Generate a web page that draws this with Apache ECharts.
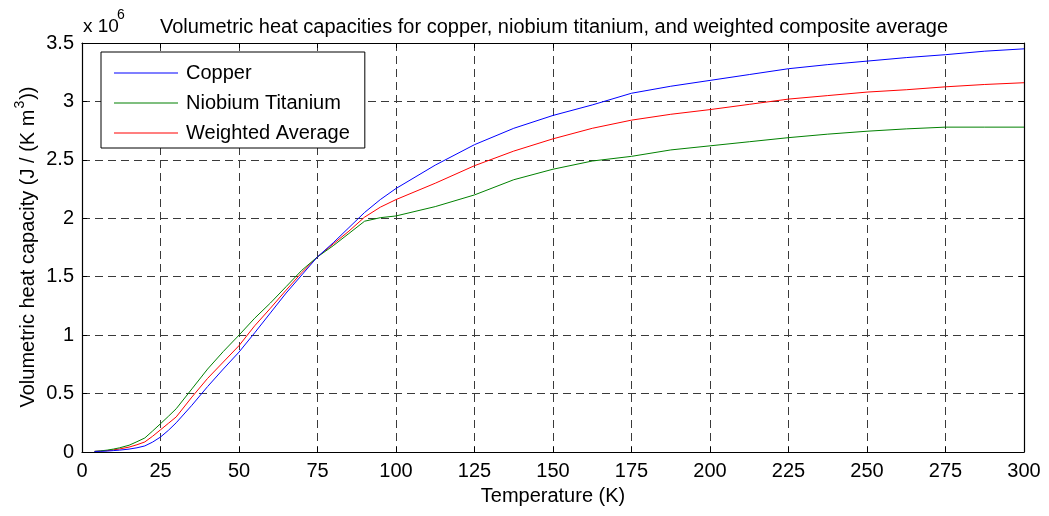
<!DOCTYPE html>
<html>
<head>
<meta charset="utf-8">
<script src="https://cdn.jsdelivr.net/npm/echarts@6/dist/echarts.min.js"></script>
<style>
html,body{margin:0;padding:0;background:#fff;}
#chart{width:1049px;height:516px;}
</style>
</head>
<body>
<div id="chart"></div>
<script>
// Temperature (K)
const temperatures = [4, 6, 8, 10, 12, 15, 17.5, 20, 22.5, 25, 27.5, 30, 35, 40, 45, 50, 55, 60, 65, 70, 75, 80, 85, 90, 95, 100, 112.5, 125, 137.5, 150, 162.5, 175, 187.5, 200, 212.5, 225, 237.5, 250, 262.5, 275, 287.5, 300];
// Volumetric heat capacity (x 10^6 J/(K m^3))
const copper = [0.005, 0.006, 0.008, 0.012, 0.016, 0.025, 0.036, 0.052, 0.085, 0.128, 0.185, 0.25, 0.40, 0.56, 0.71, 0.855, 1.02, 1.19, 1.36, 1.515, 1.67, 1.79, 1.92, 2.05, 2.16, 2.255, 2.455, 2.63, 2.77, 2.88, 2.97, 3.07, 3.13, 3.18, 3.23, 3.28, 3.315, 3.345, 3.375, 3.40, 3.43, 3.45];
const niobiumTitanium = [0.005, 0.010, 0.016, 0.025, 0.036, 0.058, 0.088, 0.12, 0.18, 0.242, 0.305, 0.37, 0.54, 0.71, 0.86, 1.0, 1.145, 1.275, 1.415, 1.555, 1.67, 1.765, 1.87, 1.975, 2.005, 2.02, 2.10, 2.20, 2.33, 2.42, 2.49, 2.53, 2.585, 2.62, 2.655, 2.69, 2.72, 2.745, 2.765, 2.78, 2.78, 2.78];
const weightedAverage = [0.005, 0.008, 0.012, 0.018, 0.026, 0.042, 0.062, 0.086, 0.135, 0.19, 0.245, 0.30, 0.47, 0.63, 0.77, 0.91, 1.08, 1.23, 1.385, 1.535, 1.67, 1.78, 1.89, 2.01, 2.095, 2.16, 2.30, 2.45, 2.575, 2.68, 2.77, 2.84, 2.89, 2.93, 2.975, 3.02, 3.05, 3.08, 3.10, 3.125, 3.145, 3.16];
const xTicks = [0, 25, 50, 75, 100, 125, 150, 175, 200, 225, 250, 275, 300];
const yTicks = [0, 0.5, 1, 1.5, 2, 2.5, 3, 3.5];
const seriesNames = ['Copper', 'Niobium Titanium', 'Weighted Average'];
const seriesColors = ['#0000ff', '#008000', '#ff0000'];

const FONT = 'Liberation Sans, Arial, sans-serif';
const chart = echarts.init(document.getElementById('chart'), null, {renderer: 'canvas'});

function pairs(ys) { return temperatures.map((t, i) => [t, ys[i]]); }

const gridLine = {show: true, lineStyle: {color: '#3a3a3a', type: [8, 5], width: 1}};
const tickStyle = {show: true, inside: true, length: 5, lineStyle: {color: '#000', width: 1}};
const boxLine = {show: true, onZero: false, lineStyle: {color: '#000', width: 1.2}};

const option = {
  animation: false,
  backgroundColor: '#fff',
  color: seriesColors,
  textStyle: {fontFamily: FONT},
  graphic: [
    {
      type: 'text', x: 554, y: 27,
      style: {
        text: 'Volumetric heat capacities for copper, niobium titanium, and weighted composite average',
        fontFamily: FONT, fontSize: 20, fill: '#000', align: 'center', verticalAlign: 'middle'
      }
    },
    {
      type: 'text', x: 83, y: 27,
      style: {text: 'x 10', fontFamily: FONT, fontSize: 19, fill: '#000', align: 'left', verticalAlign: 'middle'}
    },
    {
      type: 'text', x: 117, y: 15,
      style: {text: '6', fontFamily: FONT, fontSize: 14, fill: '#000', align: 'left', verticalAlign: 'middle'}
    },
    {
      type: 'text', x: 25, y: 247, rotation: Math.PI / 2,
      style: {
        text: '{a|Volumetric heat capacity (J / (K m}{s|3}{a|))}',
        align: 'center', verticalAlign: 'middle',
        rich: {
          a: {fontFamily: FONT, fontSize: 20, fill: '#000', padding: [7, 0, 0, 0]},
          s: {fontFamily: FONT, fontSize: 14, fill: '#000', padding: [0, 1, 9, 1]}
        }
      }
    }
  ],
  legend: {
    orient: 'vertical',
    left: 101, top: 52,
    padding: [11, 15, 5, 13],
    itemGap: 10,
    itemWidth: 64, itemHeight: 1,
    icon: 'rect',
    backgroundColor: '#fff',
    borderColor: '#000', borderWidth: 1,
    textStyle: {fontFamily: FONT, fontSize: 20, color: '#000', padding: [0, 0, 0, 3]},
    data: seriesNames
  },
  grid: {left: 82, right: 25, top: 43, bottom: 64, containLabel: false},
  xAxis: [{
    type: 'value', min: 0, max: 300, interval: 25,
    name: 'Temperature (K)', nameLocation: 'middle', nameGap: 34,
    nameTextStyle: {fontFamily: FONT, fontSize: 20, color: '#000'},
    axisLine: boxLine, axisTick: tickStyle,
    axisLabel: {fontFamily: FONT, fontSize: 20, color: '#000', margin: 9, customValues: xTicks},
    splitLine: gridLine
  }, {
    type: 'value', min: 0, max: 300, interval: 25, position: 'top',
    axisLine: boxLine, axisTick: tickStyle,
    axisLabel: {show: false}, splitLine: {show: false}
  }],
  yAxis: [{
    type: 'value', min: 0, max: 3.5, interval: 0.5,
    axisLine: boxLine, axisTick: tickStyle,
    axisLabel: {fontFamily: FONT, fontSize: 20, color: '#000', margin: 8,
      customValues: yTicks, formatter: v => String(v)},
    splitLine: gridLine
  }, {
    type: 'value', min: 0, max: 3.5, interval: 0.5, position: 'right',
    axisLine: boxLine, axisTick: tickStyle,
    axisLabel: {show: false}, splitLine: {show: false}
  }],
  series: [copper, niobiumTitanium, weightedAverage].map((d, i) => ({
    name: seriesNames[i], type: 'line', data: pairs(d),
    showSymbol: false, symbol: 'none', smooth: false,
    lineStyle: {color: seriesColors[i], width: 1},
    itemStyle: {color: seriesColors[i]},
    z: 3 - i
  }))
};
chart.setOption(option);
</script>
</body>
</html>
